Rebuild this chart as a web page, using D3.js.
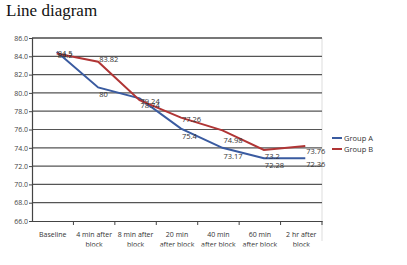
<!DOCTYPE html>
<html>
<head>
<meta charset="utf-8">
<script src="https://cdn.jsdelivr.net/npm/d3@7"></script>
<style>
  body { margin: 0; background: #fff; }
  svg { display: block; }
</style>
</head>
<body>
<div id="chart"></div>
<script>
// data
var categories = ["Baseline", "4 min after block", "8 min after block", "20 min after block",
                  "40 min after block", "60 min after block", "2 hr after block"];
var catLines = [["Baseline"], ["4 min after", "block"], ["8 min after", "block"], ["20 min", "after block"],
                ["40 min", "after block"], ["60 min", "after block"], ["2 hr after", "block"]];
var groupA = [84.5, 80.6, 79.4, 76.1, 74.0, 72.85, 72.85];
var groupB = [84.3, 83.4, 79.2, 77.3, 75.9, 73.76, 74.2];
var labelsA = ["84.2", "80", "79.24", "75.4", "73.17", "72.28", "72.36"];
var labelsB = ["84.5", "83.82", "78.74", "77.26", "74.98", "73.2", "73.76"];
var yTicks = [66, 68, 70, 72, 74, 76, 78, 80, 82, 84, 86];
var seriesNames = ["Group A", "Group B"];

var svgWidth = 407, svgHeight = 265;
var plot = { left: 32, right: 322, top: 38, bottom: 221 };

var svg = d3.select("#chart").append("svg")
    .attr("width", svgWidth)
    .attr("height", svgHeight);

// title
svg.append("text")
    .attr("x", 6)
    .attr("y", 16)
    .attr("font-family", "Liberation Serif, serif")
    .attr("font-size", 17)
    .attr("fill", "#111")
    .text("Line diagram");

var x = d3.scaleBand().domain(categories).range([plot.left, plot.right]);
var y = d3.scaleLinear().domain([66, 86]).range([plot.bottom, plot.top]);
var cx = d => x(d) + x.bandwidth() / 2 + 4;

// right border of the plot area
svg.append("line")
    .attr("x1", plot.right).attr("x2", plot.right)
    .attr("y1", plot.top).attr("y2", plot.bottom + 20)
    .attr("stroke", "#ddd").attr("stroke-width", 1);

// gridlines
svg.append("g").selectAll("line")
    .data(yTicks.slice(1))
    .enter().append("line")
    .attr("x1", plot.left).attr("x2", plot.right)
    .attr("y1", d => y(d)).attr("y2", d => y(d))
    .attr("stroke", d => d === 86 ? "#777" : "#555")
    .attr("stroke-width", d => d === 86 ? 2 : 1.2);

// y axis
var yAxis = svg.append("g")
    .attr("transform", `translate(${plot.left},0)`)
    .call(d3.axisLeft(y).tickValues(yTicks).tickFormat(d3.format(".1f")).tickSize(3).tickPadding(1));
yAxis.select(".domain").attr("stroke", "#444").attr("stroke-width", 1.2);
yAxis.selectAll(".tick line").attr("stroke", "#444");
yAxis.selectAll("text")
    .attr("font-family", "Open Sans, sans-serif")
    .attr("font-size", 7)
    .attr("fill", "#444");

// x axis
var xAxis = svg.append("g")
    .attr("transform", `translate(0,${plot.bottom})`)
    .call(d3.axisBottom(x).tickSize(0).tickFormat(""));
xAxis.select(".domain").attr("stroke", "#444").attr("stroke-width", 1.2);
xAxis.selectAll(".bound")
    .data(categories)
    .enter().append("line")
    .attr("x1", d => x(d) + x.bandwidth()).attr("x2", d => x(d) + x.bandwidth())
    .attr("y1", 0).attr("y2", 4)
    .attr("stroke", "#444");

// category labels, bottom of the picture is cropped
svg.append("clipPath").attr("id", "crop")
    .append("rect").attr("x", 0).attr("y", 0).attr("width", svgWidth).attr("height", 246.5);

var catText = svg.append("g").attr("clip-path", "url(#crop)")
    .selectAll("text")
    .data(categories)
    .enter().append("text")
    .attr("x", d => x(d) + x.bandwidth() / 2)
    .attr("y", 236.5)
    .attr("text-anchor", "middle")
    .attr("font-family", "Open Sans, sans-serif")
    .attr("font-size", 7)
    .attr("fill", "#333");
catText.each(function(d, i) {
    d3.select(this).selectAll("tspan")
        .data(catLines[i])
        .enter().append("tspan")
        .attr("x", x(d) + x.bandwidth() / 2)
        .attr("dy", (t, j) => j === 0 ? 0 : 10)
        .text(t => t);
});

// lines
var line = d3.line()
    .x((d, i) => cx(categories[i]))
    .y(d => y(d));

var series = [
    { name: seriesNames[0], values: groupA, labels: labelsA, color: "#3a5ba0" },
    { name: seriesNames[1], values: groupB, labels: labelsB, color: "#b03535" }
];

svg.selectAll(".series")
    .data(series)
    .enter().append("path")
    .attr("d", d => line(d.values))
    .attr("fill", "none")
    .attr("stroke", d => d.color)
    .attr("stroke-width", 2);

// data labels
series.forEach(function(s) {
    svg.append("g").selectAll("text")
        .data(s.labels)
        .enter().append("text")
        .attr("x", (d, i) => cx(categories[i]) + 1)
        .attr("y", d => y(+d) + 4)
        .attr("font-family", "Open Sans, sans-serif")
        .attr("font-size", 7.5)
        .attr("fill", "#333")
        .text(d => d);
});

// legend
var legend = svg.append("g").selectAll("g")
    .data(series)
    .enter().append("g")
    .attr("transform", (d, i) => `translate(332,${138 + i * 11})`);
legend.append("line")
    .attr("x1", 0).attr("x2", 10)
    .attr("stroke", d => d.color)
    .attr("stroke-width", 2);
legend.append("text")
    .attr("x", 12)
    .attr("y", 2.7)
    .attr("font-family", "Open Sans, sans-serif")
    .attr("font-size", 7.5)
    .attr("fill", "#333")
    .text(d => d.name);
</script>
</body>
</html>
